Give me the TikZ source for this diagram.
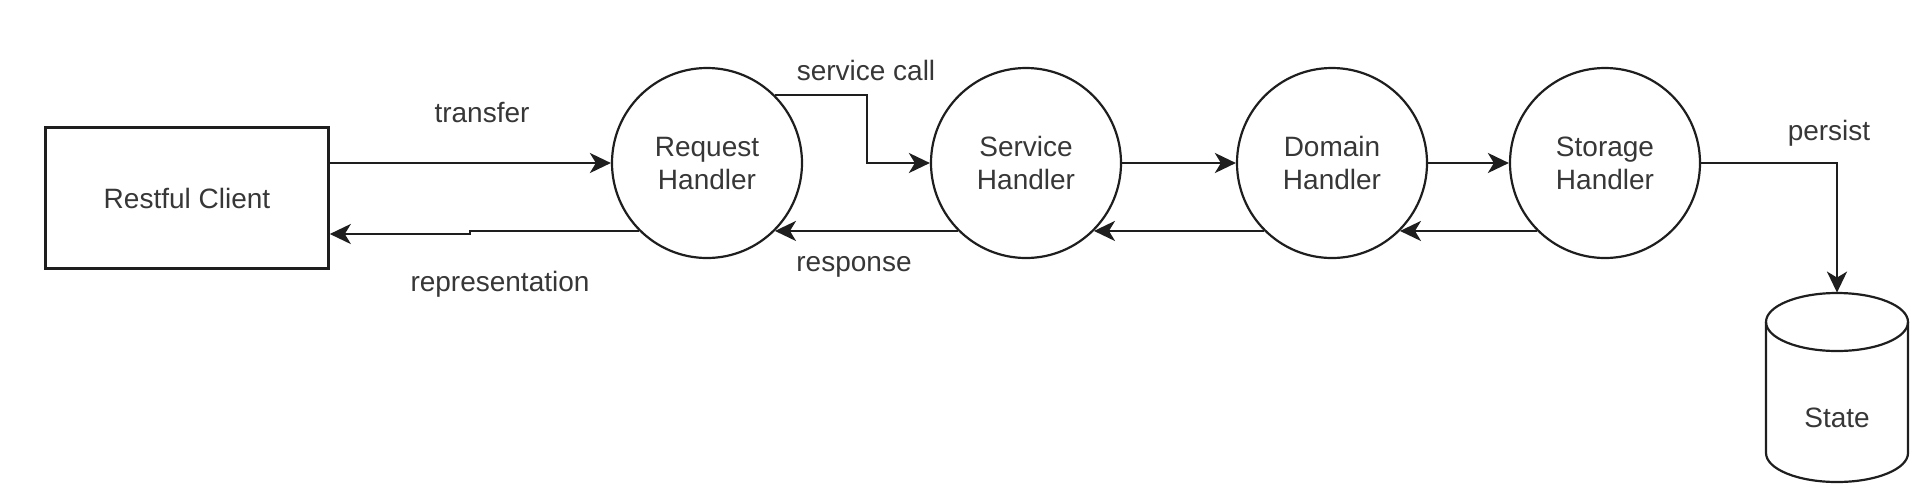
\documentclass[tikz,border=0pt]{standalone}
\usepackage{fontspec}
\setmainfont{Liberation Sans}
\usetikzlibrary{arrows.meta,calc}
\definecolor{ink}{RGB}{30,30,30}
\definecolor{txt}{RGB}{55,55,55}
\tikzset{
  boxnode/.style={draw=ink,line width=1.3pt,minimum width=141.5pt,minimum height=70.5pt,inner sep=0pt,text=txt},
  handler/.style={draw=ink,line width=1.1pt,circle,minimum size=95pt,inner sep=0pt,align=center,text=txt},
  conn/.style={draw=ink,line width=1.35pt,-{Stealth[length=10.5pt,width=10pt,inset=3pt]}},
  lbl/.style={text=txt,inner sep=0pt},
  cyl/.style={draw=ink,line width=1.1pt}
}
\begin{document}
\begin{tikzpicture}[x=0.5pt,y=0.5pt,font=\fontsize{14}{16.5}\selectfont]
\useasboundingbox (0,0) rectangle (1928,-494);
% nodes
\node[boxnode] (client) at (187,-198) {Restful Client};
\node[handler] (req) at (707,-163) {Request\\Handler};
\node[handler] (svc) at (1026,-163) {Service\\Handler};
\node[handler] (dom) at (1332,-163) {Domain\\Handler};
\node[handler] (sto) at (1605,-163) {Storage\\Handler};
% cylinder
\node[minimum width=71pt,minimum height=94.5pt,inner sep=0pt] (state) at (1837,-387.5) {};
\draw[cyl] (1766,-322) -- (1766,-453) arc[start angle=180,end angle=360,x radius=71,y radius=29] -- (1908,-322);
\draw[cyl] (1837,-322) ellipse [x radius=71,y radius=29];
\node[lbl] (statelbl) at (1837,-418) {State};
% connectors
\draw[conn] (client.east |- req.west) -- (req.west);
\draw[conn] (req.225) -- ++(-169,0) |- ([yshift=-18pt]client.east);
\draw[conn] (req.45) -- ++(92,0) |- (svc.west);
\draw[conn] (svc.225) -- (req.-45);
\draw[conn] (svc.east) -- (dom.west);
\draw[conn] (dom.225) -- (svc.-45);
\draw[conn] (dom.east) -- (sto.west);
\draw[conn] (sto.225) -- (dom.-45);
\draw[conn] (sto.east) -| (state.north);
% labels
\node[lbl] (ltransfer) at (482,-112) {transfer};
\node[lbl] (lrepr) at (500,-284) {representation};
\node[lbl] (lcall) at (866,-70) {service call};
\node[lbl] (lresp) at (854,-267) {response};
\node[lbl] (lpersist) at (1829,-133) {persist};
\end{tikzpicture}
\end{document}
